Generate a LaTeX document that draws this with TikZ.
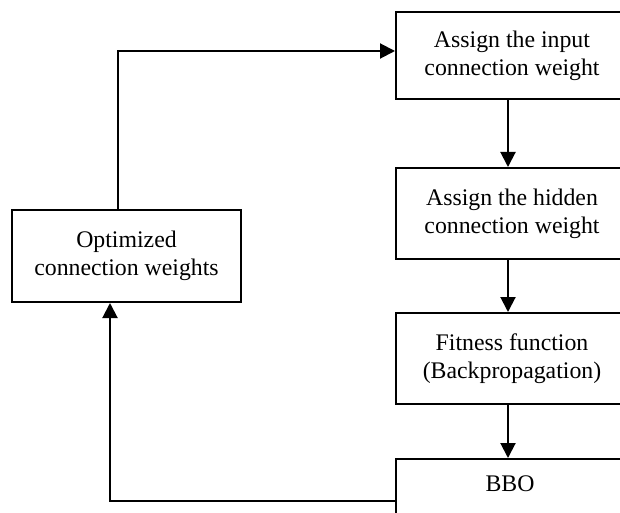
\documentclass[tikz,border=0pt]{standalone}
\usepackage{fontspec}
\setmainfont{Liberation Serif}
\usetikzlibrary{arrows.meta}
\begin{document}
\begin{tikzpicture}[x=1pt,y=-1pt,
  box/.style={draw, line width=2pt, rectangle, inner sep=0pt, align=center,
    font=\fontsize{23.8}{28.3}\selectfont},
  arr/.style={line width=2pt, -{Triangle[length=15pt,width=15pt]}}]
\useasboundingbox (0,0) rectangle (620,513);
\clip (0,0) rectangle (620,513);
\node[box, minimum width=232pt, minimum height=87pt] (b1) at (512,55.5) {Assign the input\\connection weight};
\node[box, minimum width=232pt, minimum height=91pt] (b2) at (512,213.5) {Assign the hidden\\connection weight};
\node[box, minimum width=232pt, minimum height=91pt] (b3) at (512,358.5) {Fitness function\\(Backpropagation)};
\node[box, minimum width=232pt, minimum height=91pt] (b4) at (512,504.5) {};
\node[font=\fontsize{23.8}{28.3}\selectfont] (bbo) at (510,484) {BBO};
\node[box, minimum width=229pt, minimum height=92pt] (opt) at (126.5,256) {Optimized\\connection weights};
\coordinate (xc) at (508,0);
\coordinate (tl) at (118,51);
\coordinate (bl) at (110,501);
\draw[arr] (b1.south -| xc) -- (b2.north -| xc);
\draw[arr] (b2.south -| xc) -- (b3.north -| xc);
\draw[arr] (b3.south -| xc) -- (b4.north -| xc);
\draw[arr] (tl |- opt.north) -- (tl) -- (tl -| b1.west);
\draw[arr] (bl -| b4.west) -- (bl) -- (bl |- opt.south);
\end{tikzpicture}
\end{document}
